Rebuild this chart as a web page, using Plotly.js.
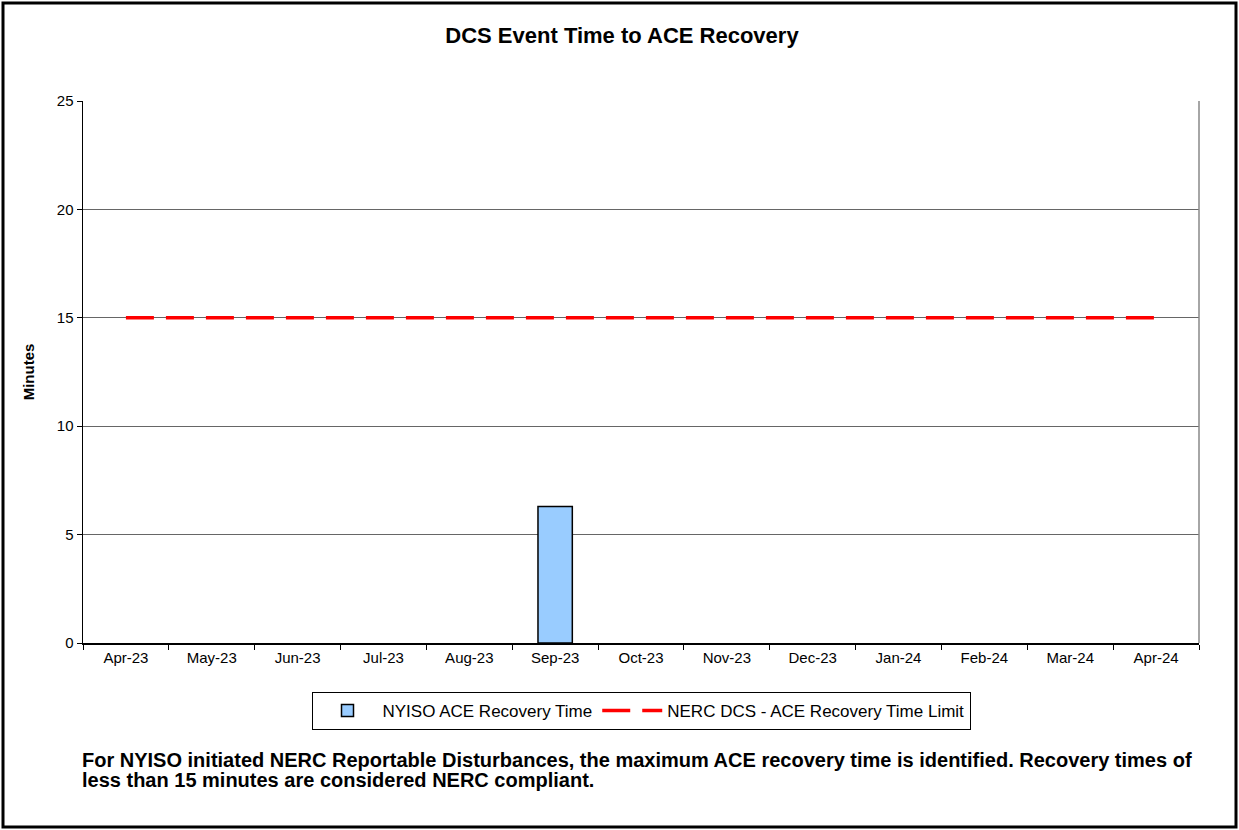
<!DOCTYPE html>
<html>
<head>
<meta charset="utf-8">
<script src="https://cdn.plot.ly/plotly-3.0.1.min.js"></script>
<style>
html,body{margin:0;padding:0;background:#fff;}
#chart{width:1239px;height:830px;}
</style>
</head>
<body>
<div id="chart"></div>
<script>
const months = ["Apr-23","May-23","Jun-23","Jul-23","Aug-23","Sep-23","Oct-23","Nov-23","Dec-23","Jan-24","Feb-24","Mar-24","Apr-24"];
const recoveryTime = [null,null,null,null,null,6.3,null,null,null,null,null,null,null];
const limit = [15,15,15,15,15,15,15,15,15,15,15,15,15];
const yTicks = [0,5,10,15,20,25];
const noteLines = [
  "For NYISO initiated NERC Reportable Disturbances, the maximum ACE recovery time is identified. Recovery times of",
  "less than 15 minutes are considered NERC compliant."
];

const W = 1239, H = 830;
const M = {l:83, r:40, t:101, b:187};
const pw = W - M.l - M.r, ph = H - M.t - M.b;
const px = v => (v - M.l) / pw;
const py = v => 1 - (v - M.t) / ph;
const font = "Liberation Sans, Arial, sans-serif";

const traces = [
  {type:"bar", x:months, y:recoveryTime, name:"NYISO ACE Recovery Time",
   marker:{color:"#99CCFF", line:{color:"#000", width:1.5}}},
  {type:"scatter", mode:"lines", x:months, y:limit, name:"NERC DCS - ACE Recovery Time Limit",
   line:{color:"#FF0000", width:3.5, dash:"28px,12px"}}
];

const layout = {
  width:W, height:H, margin:M,
  paper_bgcolor:"#fff", plot_bgcolor:"#fff",
  font:{family:font, size:15, color:"#000"},
  bargap:0.6,
  showlegend:true,
  title:{text:"<b>DCS Event Time to ACE Recovery</b>", x:0.502, xanchor:"center", y:1-35/H, yanchor:"middle",
         font:{family:font, size:22, color:"#000"}},
  xaxis:{type:"category", categoryarray:months, tickson:"boundaries", ticks:"outside", ticklen:5,
         tickcolor:"#000", showline:true, linecolor:"#000", linewidth:1.5, showgrid:false,
         tickfont:{family:font, size:15}, fixedrange:true},
  yaxis:{range:[0,25], tickvals:yTicks, ticks:"outside", ticklen:5, tickcolor:"#000",
         showline:true, linecolor:"#000", linewidth:1.5, showgrid:true, gridcolor:"#666", gridwidth:1,
         zeroline:false, tickfont:{family:font, size:15},
         title:{text:"<b>Minutes</b>", font:{family:font, size:15}, standoff:18}},
  legend:{orientation:"h", x:0.5, xanchor:"center", y:py(692), yanchor:"top",
          bordercolor:"#000", borderwidth:1, bgcolor:"#fff",
          font:{family:font, size:17}, itemwidth:60, tracegroupgap:0},
  shapes:[
    {type:"line", xref:"paper", yref:"paper", x0:1, x1:1, y0:0, y1:1, line:{color:"#888", width:1.5}},
    {type:"rect", xref:"paper", yref:"paper", x0:px(3), x1:px(1236), y0:py(3), y1:py(827),
     line:{color:"#000", width:3}, fillcolor:"rgba(0,0,0,0)", layer:"above"}
  ],
  annotations: noteLines.map((t, i) => ({
     xref:"paper", yref:"paper", x:px(80), y:py(760 + 20*i), xanchor:"left", yanchor:"middle", align:"left",
     showarrow:false, font:{family:font, size:20, color:"#000"}, text:"<b>" + t + "</b>"}))
};

Plotly.newPlot("chart", traces, layout, {displayModeBar:false, staticPlot:true});
</script>
</body>
</html>
